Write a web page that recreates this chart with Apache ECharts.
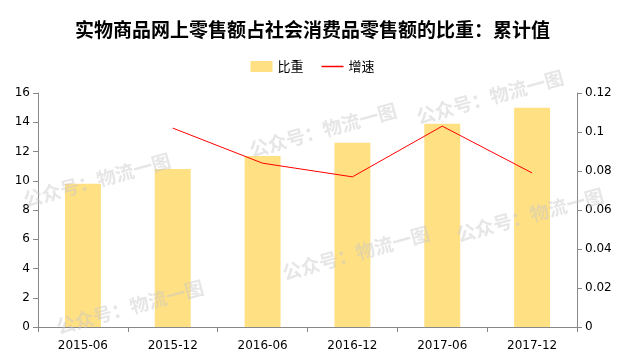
<!DOCTYPE html>
<html><head><meta charset="utf-8">
<script src="https://cdn.jsdelivr.net/npm/echarts@6/dist/echarts.min.js"></script>
<style>html,body{margin:0;padding:0;background:#fff}#c{width:625px;height:363px}</style>
</head><body><div id="c"></div>
<script>
const categories = ['2015-06','2015-12','2016-06','2016-12','2017-06','2017-12'];
const shareValues = [9.8, 10.8, 11.7, 12.6, 13.9, 15.0];
const growthValues = [null, 0.102, 0.084, 0.077, 0.103, 0.079];
const leftTicks = {min: 0, max: 16, interval: 2};
const rightTicks = {min: 0, max: 0.12, interval: 0.02};

const wm = (x, y) => ({type:'text', x:x, y:y, rotation: 0.27, z: 100,
  style:{text:'公众号：物流一图', fill:'rgba(200,200,200,0.45)', align:'center', verticalAlign:'middle',
    font:'bold 19px "Noto Sans CJK SC"'}});

const chart = echarts.init(document.getElementById('c'), null, {renderer:'canvas'});
chart.setOption({
  animation:false,
  title:{text:'实物商品网上零售额占社会消费品零售额的比重：累计值', left:'center', top:15,
    textStyle:{fontFamily:'Noto Sans CJK SC', fontSize:19, fontWeight:'bold', color:'#000'}},
  legend:{top:55, left:'center', itemWidth:22, itemHeight:11, itemGap:18,
    textStyle:{fontFamily:'Noto Sans CJK SC', fontSize:13, color:'#000'},
    data:[{name:'比重', icon:'rect'}, {name:'增速', icon:'path://M0,0 L22,0 L22,1.5 L0,1.5 Z'}]},
  grid:{left:38, right:48, top:93, bottom:36},
  xAxis:{type:'category', data:categories, boundaryGap:true,
    axisLine:{lineStyle:{color:'#888'}}, axisTick:{show:true, alignWithLabel:false, length:5, lineStyle:{color:'#888'}},
    axisLabel:{fontFamily:'DejaVu Sans', fontSize:12, color:'#000', margin:13}},
  yAxis:[
    {type:'value', min:leftTicks.min, max:leftTicks.max, interval:leftTicks.interval,
      axisLine:{show:true, lineStyle:{color:'#888'}}, axisTick:{show:true, length:5, lineStyle:{color:'#888'}},
      splitLine:{show:false}, axisLabel:{fontFamily:'DejaVu Sans', fontSize:12, color:'#000', margin:8}},
    {type:'value', min:rightTicks.min, max:rightTicks.max, interval:rightTicks.interval, position:'right',
      axisLine:{show:true, lineStyle:{color:'#888'}}, axisTick:{show:true, length:5, lineStyle:{color:'#888'}},
      splitLine:{show:false}, axisLabel:{fontFamily:'DejaVu Sans', fontSize:12, color:'#000', margin:8}}
  ],
  series:[
    {name:'比重', type:'bar', data:shareValues, barWidth:'40%', itemStyle:{color:'#FFE083'}, yAxisIndex:0},
    {name:'增速', type:'line', data:growthValues, yAxisIndex:1, symbol:'none', connectNulls:false,
      lineStyle:{color:'#FF0000', width:1}, itemStyle:{color:'#FF0000'}}
  ],
  graphic:[wm(97,180), wm(130,307), wm(323,130), wm(490,97), wm(356,253), wm(530,215)]
});
</script></body></html>
